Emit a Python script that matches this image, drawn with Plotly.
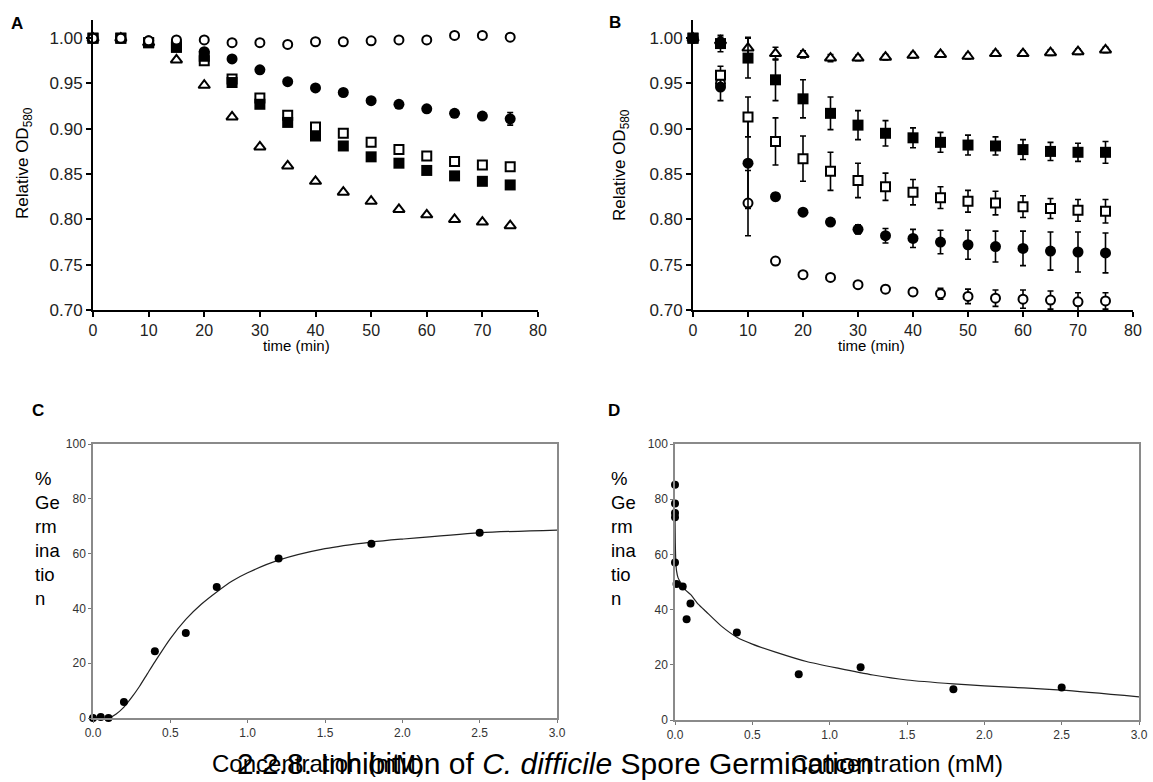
import plotly.graph_objects as go

W, H = 1153, 782

# ---------------- Panel A data ----------------
t = [0, 5, 10, 15, 20, 25, 30, 35, 40, 45, 50, 55, 60, 65, 70, 75]
a_open_circle = [1.000, 1.000, 0.997, 0.998, 0.998, 0.995, 0.995, 0.993, 0.996, 0.996, 0.997, 0.998, 0.998, 1.003, 1.003, 1.001]
a_filled_circle = [1.000, 1.000, 0.997, 0.996, 0.985, 0.977, 0.965, 0.952, 0.945, 0.940, 0.931, 0.927, 0.922, 0.917, 0.914, 0.911]
a_filled_circle_err = [0, 0, 0, 0, 0, 0, 0, 0, 0, 0, 0, 0, 0, 0, 0, 0.007]
a_open_square = [1.000, 1.000, 0.995, 0.990, 0.975, 0.955, 0.934, 0.915, 0.902, 0.895, 0.885, 0.877, 0.870, 0.864, 0.860, 0.858]
a_filled_square = [1.000, 1.000, 0.995, 0.990, 0.980, 0.951, 0.927, 0.907, 0.892, 0.881, 0.869, 0.862, 0.854, 0.848, 0.842, 0.838]
a_triangle = [1.000, 1.000, 0.995, 0.976, 0.948, 0.913, 0.880, 0.859, 0.842, 0.830, 0.820, 0.811, 0.805, 0.800, 0.797, 0.793]

# ---------------- Panel B data ----------------
b_triangle = [1.000, 0.997, 0.989, 0.983, 0.982, 0.978, 0.978, 0.979, 0.981, 0.982, 0.980, 0.983, 0.983, 0.984, 0.985, 0.987]
b_triangle_err = [0, 0.004, 0.012, 0.007, 0.004, 0.004, 0.003, 0.003, 0.003, 0.003, 0.003, 0.003, 0.003, 0.003, 0.003, 0.003]
b_filled_square = [1.000, 0.994, 0.978, 0.954, 0.933, 0.917, 0.904, 0.895, 0.890, 0.885, 0.882, 0.881, 0.877, 0.875, 0.874, 0.874]
b_filled_square_err = [0, 0.009, 0.022, 0.023, 0.021, 0.018, 0.016, 0.014, 0.011, 0.011, 0.011, 0.010, 0.011, 0.010, 0.010, 0.012]
b_open_square = [1.000, 0.959, 0.913, 0.886, 0.867, 0.853, 0.843, 0.836, 0.830, 0.824, 0.820, 0.818, 0.814, 0.812, 0.810, 0.809]
b_open_square_err = [0, 0.010, 0.022, 0.026, 0.025, 0.021, 0.019, 0.015, 0.014, 0.012, 0.012, 0.013, 0.012, 0.011, 0.012, 0.013]
b_filled_circle = [1.000, 0.946, 0.862, 0.825, 0.808, 0.797, 0.789, 0.782, 0.779, 0.775, 0.772, 0.770, 0.768, 0.765, 0.764, 0.763]
b_filled_circle_err = [0, 0.015, 0.050, 0.004, 0.003, 0.003, 0.005, 0.008, 0.010, 0.013, 0.016, 0.017, 0.019, 0.021, 0.022, 0.022]
b_open_circle = [1.000, 0.950, 0.818, 0.754, 0.739, 0.736, 0.728, 0.723, 0.720, 0.718, 0.715, 0.713, 0.712, 0.711, 0.709, 0.710]
b_open_circle_err = [0, 0.004, 0.036, 0.004, 0.003, 0.003, 0.003, 0.004, 0.004, 0.006, 0.008, 0.009, 0.010, 0.010, 0.010, 0.009]

od_ticks = [0.70, 0.75, 0.80, 0.85, 0.90, 0.95, 1.00]
time_ticks = [0, 10, 20, 30, 40, 50, 60, 70, 80]

# ---------------- Panel C data ----------------
c_conc = [0.0, 0.05, 0.1, 0.2, 0.4, 0.6, 0.8, 1.2, 1.8, 2.5]
c_germ = [0.0, 0.4, 0.0, 5.8, 24.4, 31.0, 47.8, 58.2, 63.6, 67.6]
c_fit_x = [0.0, 0.10, 0.15, 0.20, 0.25, 0.30, 0.35, 0.40, 0.50, 0.60, 0.70, 0.80, 0.90, 1.00, 1.20, 1.50, 1.80, 2.00, 2.50, 3.00]
c_fit_y = [0.0, 0.0, 1.5, 4.0, 7.5, 11.5, 16.0, 20.5, 29.0, 36.0, 41.5, 46.0, 50.0, 53.0, 57.6, 61.8, 64.2, 65.3, 67.6, 68.6]

# ---------------- Panel D data ----------------
d_conc = [0.0, 0.0, 0.0, 0.0, 0.0, 0.01, 0.05, 0.075, 0.1, 0.4, 0.8, 1.2, 1.8, 2.5]
d_germ = [85.2, 78.4, 75.0, 73.5, 57.1, 49.3, 48.4, 36.5, 42.2, 31.7, 16.6, 19.1, 11.1, 11.8]
d_fit_x = [0.0, 0.002, 0.005, 0.01, 0.02, 0.04, 0.07, 0.10, 0.15, 0.20, 0.30, 0.40, 0.50, 0.65, 0.85, 1.06, 1.28, 1.50, 1.80, 2.00, 2.50, 3.00]
d_fit_y = [73.0, 64.0, 58.0, 54.0, 51.5, 49.5, 47.0, 45.5, 42.0, 39.3, 34.0, 30.0, 27.5, 24.6, 21.2, 18.7, 16.3, 14.5, 13.1, 12.4, 10.8, 8.4]

conc_ticks = [0.0, 0.5, 1.0, 1.5, 2.0, 2.5, 3.0]
germ_ticks = [0, 20, 40, 60, 80, 100]

FONT = "Liberation Sans, Arial, sans-serif"


def px_x(p):
    return p / W


def px_y(p):
    return 1 - p / H


fig = go.Figure()


def add_series(x, y, xa, ya, symbol, filled, size, err=None):
    marker = dict(symbol=symbol, size=size,
                  color="black" if filled else "white",
                  line=dict(color="black", width=0 if filled else 2))
    kw = {}
    if err is not None:
        kw["error_y"] = dict(type="data", array=err, color="black", thickness=1.6, width=3)
    fig.add_trace(go.Scatter(x=x, y=y, mode="markers", marker=marker, xaxis=xa, yaxis=ya,
                             cliponaxis=False, showlegend=False, **kw))


# Panel A
add_series(t, a_triangle, "x", "y", "triangle-up", False, 10)
add_series(t, a_open_square, "x", "y", "square", False, 9)
add_series(t, a_filled_square, "x", "y", "square", True, 11)
add_series(t, a_filled_circle, "x", "y", "circle", True, 11, a_filled_circle_err)
add_series(t, a_open_circle, "x", "y", "circle", False, 9)

# Panel B
add_series(t, b_open_circle, "x2", "y2", "circle", False, 9, b_open_circle_err)
add_series(t, b_filled_circle, "x2", "y2", "circle", True, 11, b_filled_circle_err)
add_series(t, b_open_square, "x2", "y2", "square", False, 9, b_open_square_err)
add_series(t, b_triangle, "x2", "y2", "triangle-up", False, 10, b_triangle_err)
add_series(t, b_filled_square, "x2", "y2", "square", True, 11, b_filled_square_err)

# Panel C
fig.add_trace(go.Scatter(x=c_fit_x, y=c_fit_y, mode="lines", line=dict(color="#222", width=1.2, shape="spline", smoothing=0.8),
                         xaxis="x3", yaxis="y3", showlegend=False, cliponaxis=False))
fig.add_trace(go.Scatter(x=c_conc, y=c_germ, mode="markers", marker=dict(color="black", size=8),
                         xaxis="x3", yaxis="y3", showlegend=False, cliponaxis=False))

# Panel D
fig.add_trace(go.Scatter(x=d_fit_x, y=d_fit_y, mode="lines", line=dict(color="#222", width=1.2, shape="spline", smoothing=0.6),
                         xaxis="x4", yaxis="y4", showlegend=False, cliponaxis=False))
fig.add_trace(go.Scatter(x=d_conc, y=d_germ, mode="markers", marker=dict(color="black", size=8),
                         xaxis="x4", yaxis="y4", showlegend=False, cliponaxis=False))

ab_x = dict(range=[0, 80], tickvals=time_ticks, showline=True, linecolor="black", linewidth=2,
            ticks="outside", ticklen=5, tickwidth=2, tickcolor="black", showgrid=False, zeroline=False,
            automargin=False, tickfont=dict(family=FONT, size=16, color="#222"))
ab_y = dict(range=[0.70, 1.02], tickvals=od_ticks, tickformat=".2f", showline=True, linecolor="black", linewidth=2,
            ticks="outside", ticklen=5, tickwidth=2, tickcolor="black", showgrid=False, zeroline=False,
            automargin=False, tickfont=dict(family=FONT, size=17, color="#222"))
cd_x = dict(range=[0, 3], tickvals=conc_ticks, tickformat=".1f", showline=True, mirror=True, linecolor="#8a8a8a",
            linewidth=1.5, ticks="outside", ticklen=3, tickwidth=1, tickcolor="#777", showgrid=False, zeroline=False,
            automargin=False, tickfont=dict(family=FONT, size=12, color="#333"))
cd_y = dict(range=[0, 100], tickvals=germ_ticks, showline=True, mirror=True, linecolor="#8a8a8a",
            linewidth=1.5, ticks="outside", ticklen=3, tickwidth=1, tickcolor="#777", showgrid=False, zeroline=False,
            automargin=False, tickfont=dict(family=FONT, size=12, color="#333"))

y_ab = [px_y(310), px_y(20)]
fig.update_layout(
    width=W, height=H, margin=dict(l=0, r=0, t=0, b=0, pad=0), autosize=False,
    paper_bgcolor="white", plot_bgcolor="white", showlegend=False,
    xaxis=dict(domain=[px_x(93), px_x(538)], anchor="y", **ab_x),
    yaxis=dict(domain=y_ab, anchor="x", **ab_y),
    xaxis2=dict(domain=[px_x(693), px_x(1133)], anchor="y2", **ab_x),
    yaxis2=dict(domain=y_ab, anchor="x2", **ab_y),
    xaxis3=dict(domain=[px_x(93), px_x(557)], anchor="y3", **cd_x),
    yaxis3=dict(domain=[px_y(718), px_y(444)], anchor="x3", **cd_y),
    xaxis4=dict(domain=[px_x(675), px_x(1139)], anchor="y4", **cd_x),
    yaxis4=dict(domain=[px_y(720), px_y(444)], anchor="x4", **cd_y),
)

ann = []


def add_text(text, x, y, size, bold=False, angle=0, xanchor="center", yanchor="middle", align="center"):
    ann.append(dict(text=f"<b>{text}</b>" if bold else text, x=px_x(x), y=px_y(y), xref="paper", yref="paper",
                    showarrow=False, xanchor=xanchor, yanchor=yanchor, align=align, textangle=angle,
                    font=dict(family=FONT, size=size, color="black")))


add_text("A", 17, 24, 17, bold=True)
add_text("B", 615, 22, 17, bold=True)
add_text("C", 38, 410, 17, bold=True)
add_text("D", 614, 410, 17, bold=True)

add_text("time (min)", 296, 346, 15)
add_text("time (min)", 871, 346, 15)
add_text("Relative OD<sub>580</sub>", 24, 163, 17, angle=-90)
add_text("Relative OD<sub>580</sub>", 621, 165, 17, angle=-90)

germ_label = "%<br>Ge<br>rm<br>ina<br>tio<br>n"
add_text(germ_label, 33, 538, 18.5, xanchor="left", align="left")
add_text(germ_label, 609, 538, 18.5, xanchor="left", align="left")

add_text("Concentration (mM)", 318, 763, 24)
add_text("Concentration (mM)", 897, 763, 24)
add_text("2.2.8. Inhibition of <i>C. difficile</i> Spore Germination", 235, 763, 30, xanchor="left")

fig.update_layout(annotations=ann)

fig.write_html("out.html", config={"displayModeBar": False},
               post_script="document.body.style.margin='0px';")
